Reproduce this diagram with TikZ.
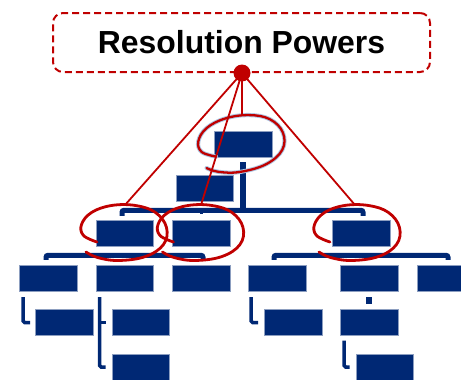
\documentclass[tikz,border=0pt]{standalone}
\usepackage{fontspec}
\setmainfont{Liberation Sans}
\definecolor{navy}{RGB}{0,40,116}
\definecolor{dred}{RGB}{192,0,0}
\definecolor{glow}{RGB}{175,200,228}
\newcommand{\myring}[2][]{%
  \draw[ring,shift={#2},#1] plot[smooth, tension=0.65] coordinates {(-26.5,9.5) (-40,3) (-42,-8) (-32,-20) (-12,-27) (12,-27) (32,-20) (43,-5) (40,12) (22,24) (-5,28) (-26,25) (-37.5,19.5)};}
\begin{document}
\begin{tikzpicture}[x=1pt,y=-1pt,
  box/.style={rectangle, fill=navy, draw=navy!45!white, line width=0.4pt, minimum width=57.5pt, minimum height=26pt, inner sep=0pt},
  bar/.style={draw=navy, line width=5pt, rounded corners=2pt},
  hook/.style={draw=navy, line width=3.5pt, rounded corners=1.5pt},
  nub/.style={draw=navy, line width=3pt},
  redline/.style={draw=dred, line width=1.8pt},
  ring/.style={draw=dred, line width=2.8pt, line cap=round},
  titlebox/.style={draw=dred, line width=2pt, dash pattern=on 7pt off 4pt, rounded corners=10pt, minimum width=377pt, minimum height=59pt, inner sep=0pt, font=\fontsize{31.9}{36}\selectfont\bfseries}
]
\useasboundingbox (0,0) rectangle (461,380);

% boxes
\node[box] (top) at (243,144) {};
\node[box, minimum width=57pt] (side) at (204.5,188) {};
\node[box] (a) at (124.5,233) {};
\node[box] (b) at (201,233) {};
\node[box] (c) at (361,233) {};
\node[box] (n1) at (48,278) {};
\node[box] (n2) at (124.5,278) {};
\node[box] (n3) at (201,278) {};
\node[box] (n4) at (277,278) {};
\node[box] (n5) at (369,278) {};
\node[box, minimum width=44pt] (n6) at (439,278) {};
\node[box] (m1) at (64,322.5) {};
\node[box] (m2) at (140.5,322.5) {};
\node[box] (m4) at (293,322.5) {};
\node[box] (m5) at (369,322.5) {};
\node[box] (p2) at (140.5,367) {};
\node[box] (p5) at (384.5,367) {};

% navy connectors
\coordinate (j1) at (243,210.5);
\draw[navy, line width=6pt] ([yshift=-5pt]top.south) -- (j1);
\draw[bar] ([xshift=-2.5pt,yshift=4pt]a.north) -- ([xshift=-2.5pt,yshift=9.5pt]a.north) -- ([xshift=2pt,yshift=9.5pt]c.north) -- ([xshift=2pt,yshift=4pt]c.north);
\draw[nub] ([yshift=9.5pt]b.north) -- ([yshift=6pt]b.north);

\draw[bar] ([xshift=-2pt,yshift=5pt]n1.north) -- ([xshift=-2pt,yshift=9.5pt]n1.north) -- ([xshift=2pt,yshift=9.5pt]n3.north) -- ([xshift=2pt,yshift=5pt]n3.north);
\draw[nub] ([yshift=-9.5pt]a.south) -- ([yshift=-6.5pt]a.south);
\draw[bar] ([xshift=-3pt,yshift=5pt]n4.north) -- ([xshift=-3pt,yshift=9.5pt]n4.north) -- ([xshift=9pt,yshift=9.5pt]n6.north) -- ([xshift=9pt,yshift=5pt]n6.north);
\draw[nub] ([xshift=1pt,yshift=-9.5pt]c.south) -- ([xshift=1pt,yshift=-6.5pt]c.south);

\coordinate (h1) at ([xshift=4pt,yshift=-6pt]n1.south west);
\draw[hook] (h1) |- ([xshift=-5pt]m1.west);
\coordinate (h2) at ([xshift=4pt,yshift=-6pt]n2.south west);
\draw[hook] (h2) |- ([xshift=-6pt]p2.west);
\draw[hook] (h2 |- m2.west) -- ([xshift=-6pt]m2.west);
\coordinate (h4) at ([xshift=3pt,yshift=-6pt]n4.south west);
\draw[hook] (h4) |- ([xshift=-6pt]m4.west);
\draw[navy, line width=6pt] ([yshift=-6pt]n5.south) -- ([yshift=-13pt]n5.south);
\coordinate (h5) at ([xshift=4pt,yshift=-5pt]m5.south west);
\draw[hook] (h5) |- ([xshift=-6pt]p5.west);

% rings
\myring[glow, line width=4.2pt, rotate=8]{(241,143.5)}
\myring[line width=2.3pt, rotate=8]{(241,143.5)}
\myring{(123.5,232.5)}
\myring{(200,232.5)}
\myring{(356.5,232.5)}

% title and red lines
\node[titlebox] (title) at (241.5,42.5) {Resolution Powers};
\node[circle, fill=dred, minimum size=17pt, inner sep=0pt] (dot) at (242,73) {};
\coordinate (ra) at (125,205);
\coordinate (rb) at (201,205);
\coordinate (rt) at (242,116);
\coordinate (rc) at (355,205);
\draw[redline] (dot.center) -- (ra);
\draw[redline] (dot.center) -- (rb);
\draw[redline] (dot.center) -- (rt);
\draw[redline] (dot.center) -- (rc);
\end{tikzpicture}
\end{document}
